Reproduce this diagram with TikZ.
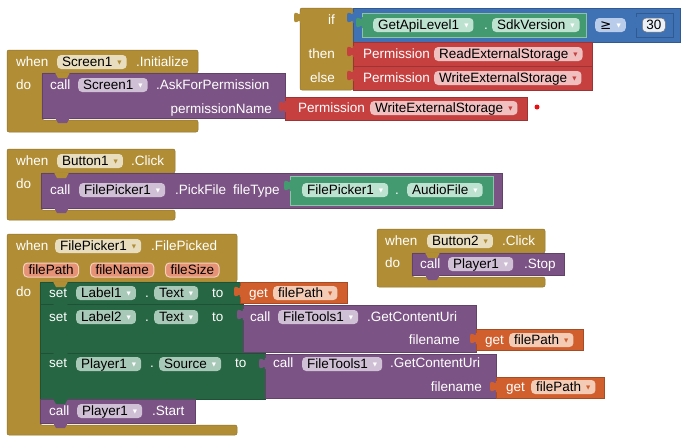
\documentclass[tikz,border=0pt]{standalone}
\usepackage{fontspec}
\setmainfont{Liberation Sans}
\newfontfamily\symfont{DejaVu Sans}
\usetikzlibrary{positioning}
\definecolor{evgold}{RGB}{177,142,53}
\definecolor{goldfld}{RGB}{232,221,190}
\definecolor{callpurple}{RGB}{124,83,133}
\definecolor{callfld}{RGB}{208,192,214}
\definecolor{setgreen}{RGB}{38,102,67}
\definecolor{setfld}{RGB}{168,201,183}
\definecolor{propgreen}{RGB}{67,153,112}
\definecolor{propfld}{RGB}{190,226,208}
\definecolor{mathblue}{RGB}{63,113,181}
\definecolor{mathfld}{RGB}{185,205,235}
\definecolor{permred}{RGB}{198,64,64}
\definecolor{permfld}{RGB}{240,192,192}
\definecolor{getorange}{RGB}{208,95,45}
\definecolor{getfld}{RGB}{244,204,182}
\definecolor{paramfill}{RGB}{229,146,118}
\definecolor{paramline}{RGB}{246,206,188}
\definecolor{dotred}{RGB}{232,16,16}
\colorlet{ddcol}{black}
\newcommand{\blk}{\fontsize{13.5}{16}\selectfont}
\newcommand{\dd}{\hspace{5pt}\raisebox{2.4pt}{\color{ddcol}\symfont\fontsize{5.5}{5}\selectfont ▼}\hspace{1.5pt}}

\begin{document}
\begin{tikzpicture}[x=1pt, y=-1pt]
    % Styles
    \tikzstyle{lbl} = [anchor=west, inner sep=0pt, text=white, font=\blk, text height=9.5pt, text depth=0pt]
    \tikzstyle{fld} = [anchor=west, rounded corners=4pt, inner xsep=5pt, inner ysep=0pt,
        minimum height=14pt, text height=9.5pt, text depth=0pt, text=black, font=\blk]
    \tikzstyle{fgold} = [fld, fill=goldfld, execute at begin node={\colorlet{ddcol}{evgold}}]
    \tikzstyle{fpurple} = [fld, fill=callfld, execute at begin node={\colorlet{ddcol}{white}}]
    \tikzstyle{fgreen} = [fld, fill=setfld, execute at begin node={\colorlet{ddcol}{white}}]
    \tikzstyle{flgreen} = [fld, fill=propfld, execute at begin node={\colorlet{ddcol}{white}}]
    \tikzstyle{fred} = [fld, fill=permfld, execute at begin node={\colorlet{ddcol}{permred}}]
    \tikzstyle{forange} = [fld, fill=getfld, execute at begin node={\colorlet{ddcol}{getorange}}]
    \tikzstyle{fblue} = [fld, fill=mathfld, execute at begin node={\colorlet{ddcol}{white}}]
    \tikzstyle{fnum} = [fld, inner xsep=4pt, fill=white!90!mathblue, draw=black!55, line width=0.5pt]
    \tikzstyle{param} = [fld, fill=paramfill, draw=paramline, line width=1pt]
    \tikzstyle{evblk} = [fill=evgold, draw=evgold!80!black, line width=0.5pt, rounded corners=2pt]
    \tikzstyle{callblk} = [fill=callpurple, draw=callpurple!80!black, line width=0.5pt]
    \tikzstyle{setblk} = [fill=setgreen, draw=setgreen!80!black, line width=0.5pt]
    \tikzstyle{propblk} = [fill=propgreen, draw=propgreen!60!white, line width=0.5pt]
    \tikzstyle{mathblk} = [fill=mathblue, draw=mathblue!80!black, line width=0.5pt]
    \tikzstyle{permblk} = [fill=permred, draw=permred!80!black, line width=0.5pt]
    \tikzstyle{getblk} = [fill=getorange, draw=getorange!80!black, line width=0.5pt]
    \tikzset{
        vtab/.pic={\fill[pic actions] (1,4) -- (0,4) .. controls (0,11) and (-6,-2) .. (-6,9.5)
            .. controls (-6,21) and (0,8) .. (0,15) -- (1,15) -- cycle;},
        nub/.pic={\fill[pic actions] (13,-0.5) -- (16,5) -- (25,5) -- (28,-0.5) -- cycle;}
    }
    \useasboundingbox (0,0) rectangle (690,440);

    % Block A: if then else
    \path[evblk] (300,8) rectangle (353,90);
    \pic[fill=evgold] at (300,8) {vtab};
    \node[lbl, anchor=east] (ifkw) at (335,20) {if};
    \node[lbl, anchor=east] (thenkw) at (335,54) {then};
    \node[lbl, anchor=east] (elsekw) at (335,78) {else};
    \path[mathblk] (353,8) rectangle (680,42);
    \pic[fill=mathblue] at (353,8) {vtab};
    \path[propblk] (362,13) rectangle (586,37);
    \pic[fill=propgreen] at (362,13) {vtab};
    \node[flgreen] (api) at (373,25) {GetApiLevel1\dd};
    \node[lbl] (apidot) at (484,25) {.};
    \node[flgreen] (sdk) at (492,25) {SdkVersion\dd};
    \node[fblue] (cmp) at (595,25) {{\symfont ≥}\dd};
    \path[mathblk] (636,13) rectangle (673,37);
    \pic[fill=mathblue] at (636,13) {vtab};
    \node[fnum] (num) at (642,25) {30};
    \path[permblk] (353,42) rectangle (592,66);
    \pic[fill=permred] at (353,42) {vtab};
    \node[lbl] (perm1) at (363,54) {Permission};
    \node[fred] (readst) at (434,54) {ReadExternalStorage\dd};
    \path[permblk] (353,66) rectangle (592,90);
    \pic[fill=permred] at (353,66) {vtab};
    \node[lbl] (perm2) at (363,78) {Permission};
    \node[fred] (writest) at (434,78) {WriteExternalStorage\dd};

    % Block B: Screen1.Initialize
    \path[evblk] (7,50) -- (198,50) -- (198,73) -- (42,73) -- (42,120) -- (198,120) -- (198,132) -- (7,132) -- cycle;
    \node[lbl] (when1) at (16,62) {when};
    \node[fgold] (scr1) at (57,62) {Screen1\dd};
    \node[lbl] (init) at (136,62) {.Initialize};
    \node[lbl] (do1) at (16,85) {do};
    \path[callblk] (42,73) rectangle (285,118);
    \pic[fill=evgold] at (42,73) {nub};
    \pic[fill=callpurple] at (42,118) {nub};
    \node[lbl] (call1) at (50,85) {call};
    \node[fpurple] (scr2) at (78,85) {Screen1\dd};
    \node[lbl] (ask) at (156,85) {.AskForPermission};
    \node[lbl, anchor=east] (pname) at (272,109) {permissionName};
    \path[permblk] (285,97) rectangle (527,120);
    \pic[fill=permred] at (285,97) {vtab};
    \node[lbl] (perm3) at (298,108) {Permission};
    \node[fred] (writest2) at (370,108) {WriteExternalStorage\dd};
    \fill[dotred] (537,107) circle (2.5);

    % Block C: Button1.Click
    \path[evblk] (7,149) -- (175,149) -- (175,173) -- (41,173) -- (41,210) -- (175,210) -- (175,220) -- (7,220) -- cycle;
    \node[lbl] (when2) at (16,161) {when};
    \node[fgold] (btn1) at (57,161) {Button1\dd};
    \node[lbl] (click1) at (131,161) {.Click};
    \node[lbl] (do2) at (16,184) {do};
    \path[callblk] (41,173) rectangle (502,208);
    \pic[fill=evgold] at (41,173) {nub};
    \pic[fill=callpurple] at (41,208) {nub};
    \node[lbl] (call2) at (50,190) {call};
    \node[fpurple] (fp1) at (79,190) {FilePicker1\dd};
    \node[lbl] (pick) at (175,190) {.PickFile};
    \node[lbl] (ftype) at (233,190) {fileType};
    \path[propblk] (290,176) rectangle (493,205);
    \pic[fill=propgreen] at (290,176) {vtab};
    \node[flgreen] (fp2) at (302,190) {FilePicker1\dd};
    \node[lbl] (fpdot) at (395,190) {.};
    \node[flgreen] (audio) at (407,190) {AudioFile\dd};

    % Block D: FilePicker1.FilePicked
    \path[evblk] (7,234) -- (237,234) -- (237,282) -- (40,282) -- (40,425) -- (237,425) -- (237,435) -- (7,435) -- cycle;
    \node[lbl] (when3) at (16,246) {when};
    \node[fgold] (fp3) at (55,246) {FilePicker1\dd};
    \node[lbl] (picked) at (151,246) {.FilePicked};
    \node[param] (ppath) at (23,270) {filePath};
    \node[param] (pfname) at (90,270) {fileName};
    \node[param] (psize) at (165,270) {fileSize};
    \node[lbl] (do3) at (16,292) {do};

    % set Label1.Text
    \path[setblk] (40,282) rectangle (240,304);
    \pic[fill=evgold] at (40,282) {nub};
    \node[lbl] (set1) at (49,293) {set};
    \node[fgreen] (lab1) at (76,293) {Label1\dd};
    \node[lbl] (dot1) at (145,293) {.};
    \node[fgreen] (txt1) at (154,293) {Text\dd};
    \node[lbl] (to1) at (212,293) {to};
    \path[getblk] (240,282) rectangle (347,303);
    \pic[fill=getorange] at (240,282) {vtab};
    \node[lbl] (get1) at (249,293) {get};
    \node[forange] (gp1) at (273,293) {filePath\dd};

    % set Label2.Text
    \path[setblk] (40,304) rectangle (243,353);
    \pic[fill=setgreen] at (40,304) {nub};
    \node[lbl] (set2) at (49,317) {set};
    \node[fgreen] (lab2) at (76,317) {Label2\dd};
    \node[lbl] (dot2) at (145,317) {.};
    \node[fgreen] (txt2) at (154,317) {Text\dd};
    \node[lbl] (to2) at (212,317) {to};
    \path[callblk] (243,305) rectangle (476,352);
    \pic[fill=callpurple] at (243,305) {vtab};
    \node[lbl] (call3) at (250,317) {call};
    \node[fpurple] (ft1) at (278,317) {FileTools1\dd};
    \node[lbl] (uri1) at (367,317) {.GetContentUri};
    \node[lbl, anchor=east] (fn1) at (460,340) {filename};
    \path[getblk] (476,329) rectangle (583,350);
    \pic[fill=getorange] at (476,329) {vtab};
    \node[lbl] (get2) at (485,340) {get};
    \node[forange] (gp2) at (509,340) {filePath\dd};

    % set Player1.Source
    \path[setblk] (40,353) rectangle (265,399);
    \pic[fill=setgreen] at (40,353) {nub};
    \node[lbl] (set3) at (49,363) {set};
    \node[fgreen] (pl1) at (76,364) {Player1\dd};
    \node[lbl] (dot3) at (150,363) {.};
    \node[fgreen] (src) at (159,364) {Source\dd};
    \node[lbl] (to3) at (235,363) {to};
    \path[callblk] (265,354) rectangle (496,398);
    \pic[fill=callpurple] at (265,354) {vtab};
    \node[lbl] (call4) at (273,363) {call};
    \node[fpurple] (ft2) at (302,364) {FileTools1\dd};
    \node[lbl] (uri2) at (390,363) {.GetContentUri};
    \node[lbl, anchor=east] (fn2) at (482,387) {filename};
    \path[getblk] (496,377) rectangle (604,398);
    \pic[fill=getorange] at (496,377) {vtab};
    \node[lbl] (get3) at (506,387) {get};
    \node[forange] (gp3) at (531,387) {filePath\dd};

    % call Player1.Start
    \path[callblk] (40,399) rectangle (195,423);
    \pic[fill=setgreen] at (40,399) {nub};
    \pic[fill=callpurple] at (40,423) {nub};
    \node[lbl] (call5) at (49,411) {call};
    \node[fpurple] (pl2) at (77,411) {Player1\dd};
    \node[lbl] (start) at (152,411) {.Start};

    % Block E: Button2.Click
    \path[evblk] (377,229) -- (545,229) -- (545,253) -- (412,253) -- (412,277) -- (545,277) -- (545,287) -- (377,287) -- cycle;
    \node[lbl] (when4) at (385,241) {when};
    \node[fgold] (btn2) at (427,241) {Button2\dd};
    \node[lbl] (click2) at (502,241) {.Click};
    \node[lbl] (do4) at (385,263) {do};
    \path[callblk] (412,253) rectangle (564,275);
    \pic[fill=evgold] at (412,253) {nub};
    \pic[fill=callpurple] at (412,275) {nub};
    \node[lbl] (call6) at (420,264) {call};
    \node[fpurple] (pl3) at (448,264) {Player1\dd};
    \node[lbl] (stop) at (524,264) {.Stop};
\end{tikzpicture}
\end{document}
